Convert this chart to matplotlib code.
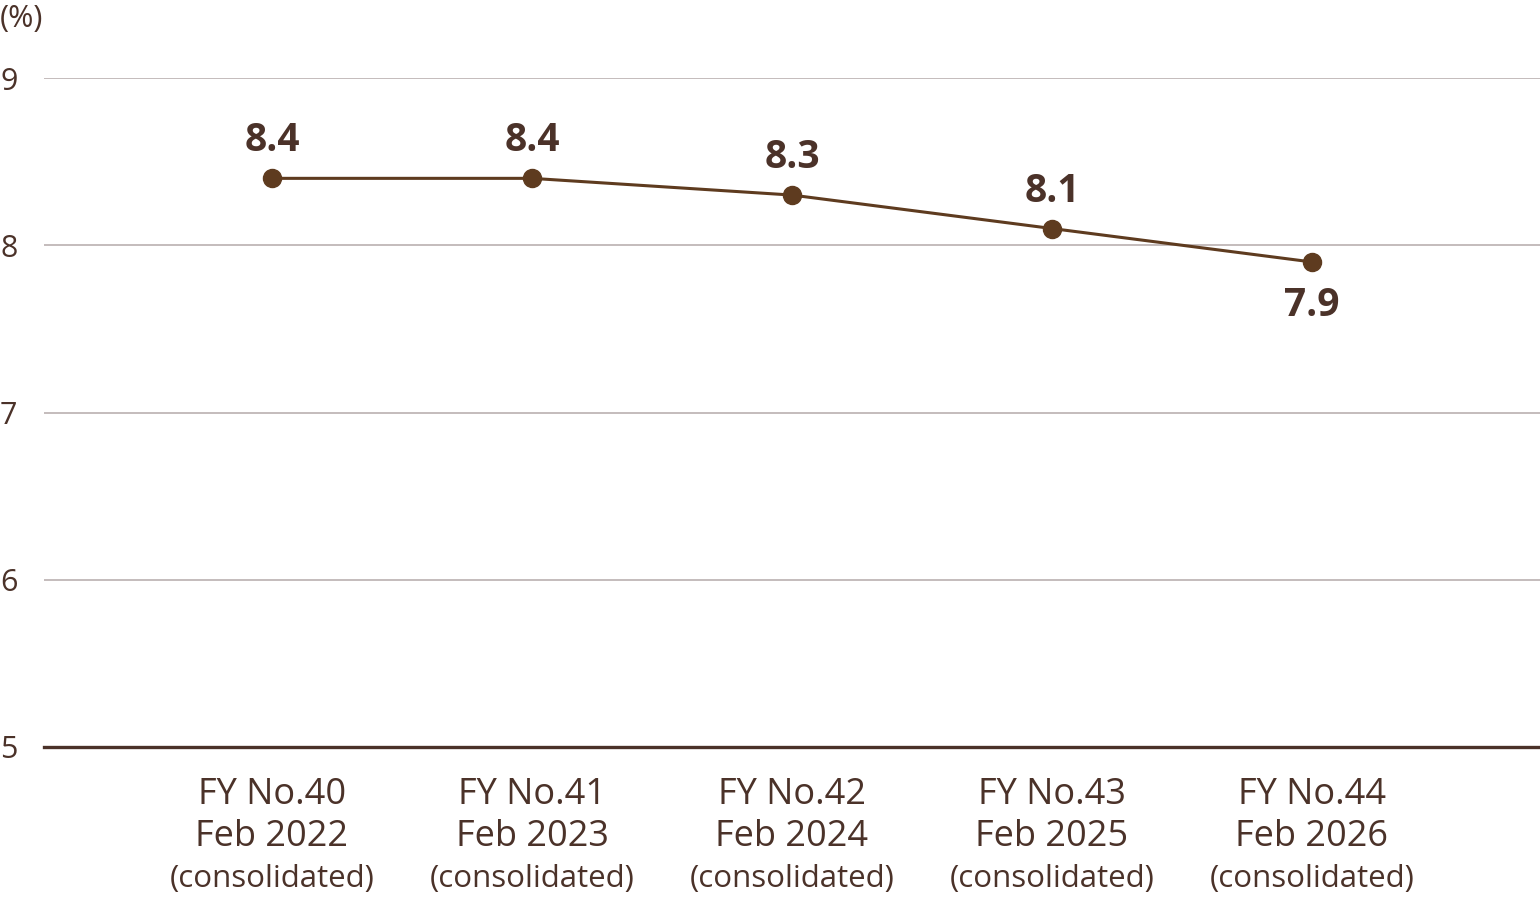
import matplotlib.pyplot as plt
from matplotlib.transforms import blended_transform_factory

# data
fy_labels = ["FY No.40", "FY No.41", "FY No.42", "FY No.43", "FY No.44"]
period_labels = ["Feb 2022", "Feb 2023", "Feb 2024", "Feb 2025", "Feb 2026"]
scope_labels = ["(consolidated)"] * 5
values = [8.4, 8.4, 8.3, 8.1, 7.9]
label_below = [False, False, False, False, True]
y_ticks = [5, 6, 7, 8, 9]

text_col = "#4b3229"
line_col = "#5e3b1f"
grid_col = "#c4bcbc"

plt.rcParams["font.family"] = ["Open Sans", "DejaVu Sans"]

fig = plt.figure(figsize=(15.4, 9.0), dpi=100)
ax = fig.add_axes([44 / 1540, 1 - 747 / 900, 1496 / 1540, (747 - 78) / 900])

xs = list(range(len(values)))
ax.set_xlim(-228 / 260, (1540 - 272) / 260)
ax.set_ylim(5, 9)

for y in y_ticks[1:]:
    ax.axhline(y, color=grid_col, lw=1.4, zorder=1)
ax.axhline(5, color=text_col, lw=2.4, zorder=2, clip_on=False)

ax.plot(xs, values, color=line_col, lw=2.2, marker="o", ms=13, zorder=3)

for x, v, below in zip(xs, values, label_below):
    off = -31 if below else 27
    ax.annotate(f"{v:.1f}", (x, v), xytext=(0, off), textcoords="offset points",
                ha="center", va="center", fontsize=28, fontweight="bold", color=text_col)

for s in ax.spines.values():
    s.set_visible(False)

ax.set_xticks([])
ax.set_yticks(y_ticks)
ax.set_yticklabels([str(t) for t in y_ticks])
ax.tick_params(axis="y", length=0, pad=44 * 72 / 100, labelsize=22, labelcolor=text_col)
for lab in ax.get_yticklabels():
    lab.set_horizontalalignment("left")

tr = blended_transform_factory(ax.transData, fig.transFigure)
for x, a, b, c in zip(xs, fy_labels, period_labels, scope_labels):
    ax.text(x, 1 - 795 / 900, a, transform=tr, ha="center", va="center",
            fontsize=26, color=text_col)
    ax.text(x, 1 - 837 / 900, b, transform=tr, ha="center", va="center",
            fontsize=26, color=text_col)
    ax.text(x, 1 - 879 / 900, c, transform=tr, ha="center", va="center",
            fontsize=22.5, color=text_col)

fig.text(0, 1 - 19 / 900, "(%)", ha="left", va="center", fontsize=22, color=text_col)

fig.savefig("out.png", dpi=100, facecolor="white")
